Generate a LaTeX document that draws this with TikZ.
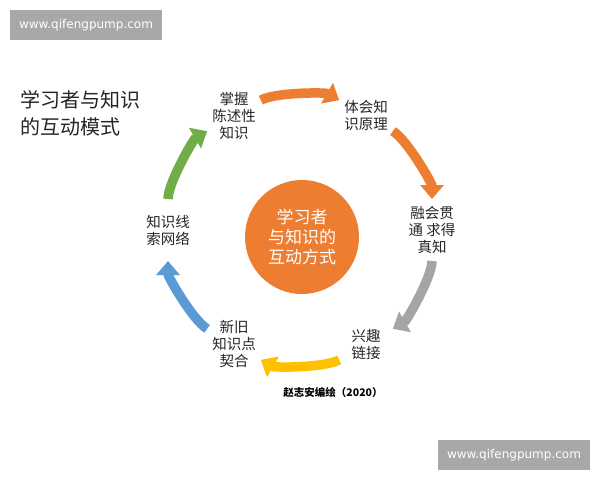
\documentclass[tikz,border=0pt]{standalone}
\usepackage{fontspec}
\setmainfont{Noto Sans CJK SC}
\newfontfamily\webfont{DejaVu Sans}
\usetikzlibrary{arrows.meta}
\definecolor{pptorange}{HTML}{ED7D31}
\definecolor{pptgray}{HTML}{A5A5A5}
\definecolor{pptyellow}{HTML}{FFC000}
\definecolor{pptblue}{HTML}{5B9BD5}
\definecolor{pptgreen}{HTML}{70AD47}
\definecolor{stampgray}{HTML}{A8A8A8}
\tikzset{
  stage/.style={align=center,inner sep=0pt,text=black!85,font=\fontsize{14.5}{17}\selectfont},
  flow/.style={color=#1,line width=9.5pt,-{Triangle[width=23pt,length=14pt]},
    shorten <=31pt,shorten >=31pt},
  stamp/.style={fill=stampgray,text=white,minimum width=152pt,minimum height=30pt,
    inner sep=0pt,font=\webfont\fontsize{12}{14}\selectfont}}

\begin{document}
\begin{tikzpicture}[x=1pt,y=1pt]
  \fill[white] (0,0) rectangle (600,-480);
  \useasboundingbox (0,0) rectangle (600,-480);
  \node [stamp] (marktop) at (86,-25) {www.qifengpump.com};
  \node [stamp] (markbottom) at (514,-455) {www.qifengpump.com};
  \node [anchor=west,align=left,inner sep=0pt,text=black!85,font=\fontsize{20}{27}\selectfont]
    (title) at (20,-113) {学习者与知识\\的互动模式};
  \coordinate (ring) at (300,-230);
  \node [circle,fill=pptorange,minimum size=114pt,inner sep=0pt,align=center,text=white,
    font=\fontsize{17}{20}\selectfont] (hub) at (302,-237) {学习者\\与知识的\\互动方式};
  \node [stage] (grasp) at ([shift={(120:132)}]ring) {掌握\\陈述性\\知识};
  \node [stage] (principle) at ([shift={(60:132)}]ring) {体会知\\识原理};
  \node [stage] (mastery) at ([shift={(0:132)}]ring) {融会贯\\通 求得\\真知};
  \node [stage] (interest) at ([shift={(-60:132)}]ring) {兴趣\\链接};
  \node [stage] (match) at ([shift={(-120:132)}]ring) {新旧\\知识点\\契合};
  \node [stage] (network) at ([shift={(180:132)}]ring) {知识线\\索网络};
  \draw [flow=pptorange] (grasp.center) to [bend left=30,looseness=0.91] (principle.center);
  \draw [flow=pptorange] (principle.center) to [bend left=30,looseness=0.91] (mastery.center);
  \draw [flow=pptgray] (mastery.center) to [bend left=30,looseness=0.91] (interest.center);
  \draw [flow=pptyellow] (interest.center) to [bend left=30,looseness=0.91] (match.center);
  \draw [flow=pptblue] (match.center) to [bend left=30,looseness=0.91] (network.center);
  \draw [flow=pptgreen] (network.center) to [bend left=30,looseness=0.91] (grasp.center);
  \node [inner sep=0pt,text=black,font=\bfseries\fontsize{10.5}{12}\selectfont]
    (credit) at (333,-392) {赵志安编绘（2020）};
\end{tikzpicture}
\end{document}
